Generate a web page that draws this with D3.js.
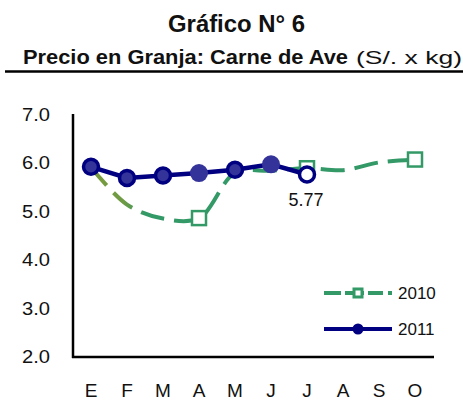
<!DOCTYPE html>
<html>
<head>
<meta charset="utf-8">
<script src="https://cdn.jsdelivr.net/npm/d3@7"></script>
<style>
  body { margin: 0; background: #fff; }
  text { font-family: "Liberation Sans", Arial, sans-serif; fill: #111; }
</style>
</head>
<body>
<script>
// data
var months = ['E', 'F', 'M', 'A', 'M', 'J', 'J', 'A', 'S', 'O'];
var values2010 = [5.92, 5.15, 4.86, 4.87, 5.8, 5.85, 5.9, 5.86, 6.02, 6.08];
var values2011 = [5.93, 5.70, 5.75, 5.80, 5.87, 5.98, 5.77];
var marked2010 = [3, 6, 9]; // points that show a square marker
var yTicks = [2, 3, 4, 5, 6, 7];

var width = 463, height = 401;
var svg = d3.select('body').append('svg')
  .attr('width', width)
  .attr('height', height);

// titles (the original text is a bit stretched, so force the widths)
svg.append('text').attr('x', 168).attr('y', 32)
  .attr('textLength', 137).attr('lengthAdjust', 'spacingAndGlyphs')
  .style('font-size', '23px').style('font-weight', 'bold')
  .text('Gráfico N° 6');
svg.append('text').attr('x', 23).attr('y', 64)
  .attr('textLength', 325).attr('lengthAdjust', 'spacingAndGlyphs')
  .style('font-size', '20px').style('font-weight', 'bold')
  .text('Precio en Granja: Carne de Ave');
svg.append('text').attr('x', 356).attr('y', 64)
  .attr('textLength', 106).attr('lengthAdjust', 'spacingAndGlyphs')
  .style('font-size', '19px')
  .text('(S/. x kg)');
svg.append('line').attr('x1', 5).attr('x2', 463).attr('y1', 71.5).attr('y2', 71.5)
  .attr('stroke', '#000').attr('stroke-width', 2.5);

// scales
var x = d3.scalePoint().domain(d3.range(months.length)).range([73, 433]).padding(0.5);
var y = d3.scaleLinear().domain([2, 7]).range([357, 115]);

// y tick labels
svg.selectAll('.ylab').data(yTicks).enter().append('text')
  .attr('class', 'ylab')
  .attr('x', 50).attr('y', function(d) { return y(d) + 6; })
  .attr('text-anchor', 'end')
  .attr('textLength', 28).attr('lengthAdjust', 'spacingAndGlyphs')
  .style('font-size', '17.5px')
  .text(function(d) { return d.toFixed(1); });

// x labels
svg.selectAll('.xlab').data(months).enter().append('text')
  .attr('class', 'xlab')
  .attr('x', function(d, i) { return x(i); }).attr('y', 397)
  .attr('text-anchor', 'middle')
  .style('font-size', '19px')
  .text(function(d) { return d; });

// axes lines
svg.append('line').attr('x1', 73).attr('x2', 73).attr('y1', 114).attr('y2', 358)
  .attr('stroke', '#000').attr('stroke-width', 2.5);
svg.append('line').attr('x1', 72).attr('x2', 434).attr('y1', 357).attr('y2', 357)
  .attr('stroke', '#000').attr('stroke-width', 2.5);

// gradient for 2010 line (olive at start, green later)
var grad = svg.append('defs').append('linearGradient')
  .attr('id', 'g2010').attr('gradientUnits', 'userSpaceOnUse')
  .attr('x1', x(0)).attr('x2', x(2)).attr('y1', 0).attr('y2', 0);
grad.append('stop').attr('offset', '0%').attr('stop-color', '#7a9a3c');
grad.append('stop').attr('offset', '45%').attr('stop-color', '#6f9b45');
grad.append('stop').attr('offset', '75%').attr('stop-color', '#339966');
grad.append('stop').attr('offset', '100%').attr('stop-color', '#339966');

var line = d3.line()
  .x(function(d, i) { return x(i); })
  .y(function(d) { return y(d); })
  .curve(d3.curveCatmullRom.alpha(0.5));

svg.append('path').datum(values2010)
  .attr('d', line)
  .attr('fill', 'none')
  .attr('stroke', 'url(#g2010)')
  .attr('stroke-width', 4)
  .attr('stroke-dasharray', '24,10');

svg.selectAll('.sq').data(marked2010).enter().append('rect')
  .attr('class', 'sq')
  .attr('x', function(i) { return x(i) - 7; })
  .attr('y', function(i) { return y(values2010[i]) - 7; })
  .attr('width', 14).attr('height', 14)
  .attr('fill', '#fff').attr('stroke', '#339966').attr('stroke-width', 2.5);

// 2011 line
var line11 = d3.line()
  .x(function(d, i) { return x(i); })
  .y(function(d) { return y(d); });
svg.append('path').datum(values2011)
  .attr('d', line11)
  .attr('fill', 'none')
  .attr('stroke', '#000080')
  .attr('stroke-width', 4.5);

svg.selectAll('.dot').data(values2011).enter().append('circle')
  .attr('class', 'dot')
  .attr('cx', function(d, i) { return x(i); })
  .attr('cy', function(d) { return y(d); })
  .attr('r', function(d, i) { return (i === 3 || i === 5) ? 9 : 7.5; })
  .attr('fill', function(d, i) { return i === values2011.length - 1 ? '#fff' : '#333399'; })
  .attr('stroke', function(d, i) { return (i === 3 || i === 5) ? 'none' : '#000080'; })
  .attr('stroke-width', 3.5);

// last value label
var last = values2011.length - 1;
svg.append('text').attr('x', x(last) - 1).attr('y', 206)
  .attr('text-anchor', 'middle')
  .style('font-size', '18px')
  .text(values2011[last].toFixed(2));

// legend
var lg = svg.append('g');
lg.append('line').attr('x1', 324).attr('x2', 392).attr('y1', 293).attr('y2', 293)
  .attr('stroke', '#339966').attr('stroke-width', 4).attr('stroke-dasharray', '17,4,19,4,15,5,5');
lg.append('rect').attr('x', 354).attr('y', 289).attr('width', 8).attr('height', 8)
  .attr('fill', '#fff').attr('stroke', '#339966').attr('stroke-width', 3);
lg.append('text').attr('x', 398).attr('y', 299).style('font-size', '17px').text('2010');
lg.append('line').attr('x1', 324).attr('x2', 392).attr('y1', 329).attr('y2', 329)
  .attr('stroke', '#000080').attr('stroke-width', 4);
lg.append('circle').attr('cx', 358).attr('cy', 329).attr('r', 5.5).attr('fill', '#000080');
lg.append('text').attr('x', 398).attr('y', 335).style('font-size', '17px').text('2011');
</script>
</body>
</html>
